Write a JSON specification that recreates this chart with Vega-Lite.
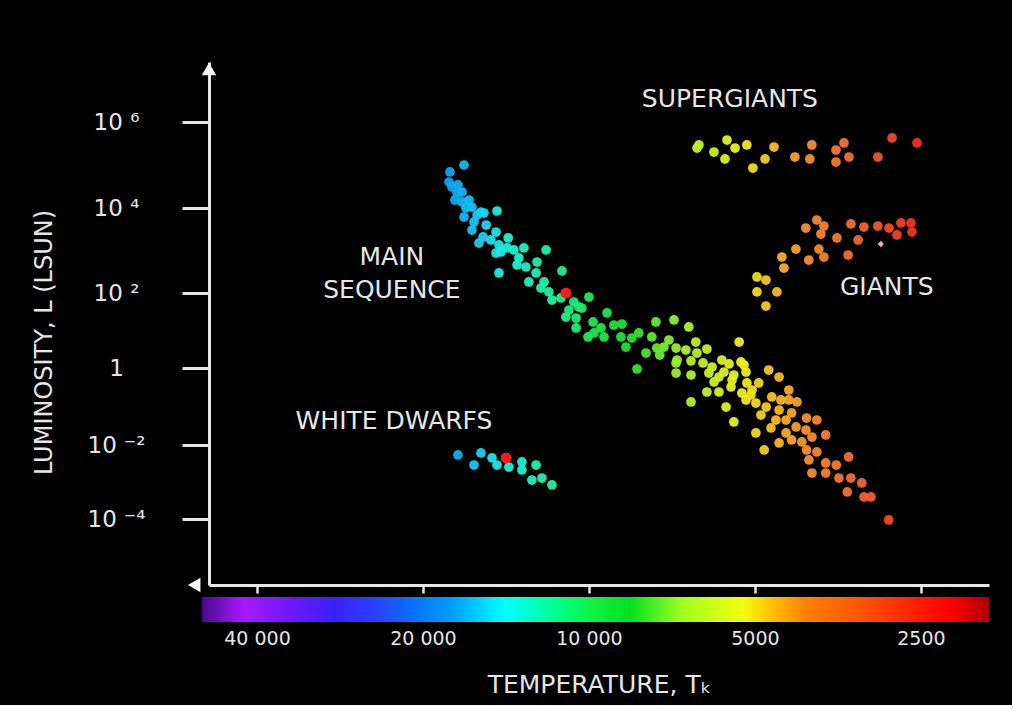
{
  "$schema": "https://vega.github.io/schema/vega-lite/v6.json",
  "background": "black",
  "padding": {"left": 32, "top": 62, "right": 23, "bottom": 8},
  "config": {
    "view": {"stroke": null},
    "font": "DejaVu Sans",
    "concat": {"spacing": 2},
    "axis": {"grid": false, "labelColor": "#e6e6e6", "titleColor": "#e6e6e6", "domainColor": "#e6e6e6", "tickColor": "#e6e6e6", "titleFontWeight": "normal"}
  },
  "datasets": {
    "stars": [
      {"group": "Main sequence", "temperature_K": 16850, "luminosity_Lsun": 100000},
      {"group": "Main sequence", "temperature_K": 17870, "luminosity_Lsun": 69000},
      {"group": "Main sequence", "temperature_K": 17940, "luminosity_Lsun": 40000},
      {"group": "Main sequence", "temperature_K": 17720, "luminosity_Lsun": 30800},
      {"group": "Main sequence", "temperature_K": 17280, "luminosity_Lsun": 34300},
      {"group": "Main sequence", "temperature_K": 17350, "luminosity_Lsun": 22300},
      {"group": "Main sequence", "temperature_K": 16990, "luminosity_Lsun": 23500},
      {"group": "Main sequence", "temperature_K": 17500, "luminosity_Lsun": 15300},
      {"group": "Main sequence", "temperature_K": 16990, "luminosity_Lsun": 13800},
      {"group": "Main sequence", "temperature_K": 16500, "luminosity_Lsun": 15300},
      {"group": "Main sequence", "temperature_K": 16300, "luminosity_Lsun": 10500},
      {"group": "Main sequence", "temperature_K": 16710, "luminosity_Lsun": 10000},
      {"group": "Main sequence", "temperature_K": 15700, "luminosity_Lsun": 8050},
      {"group": "Main sequence", "temperature_K": 15500, "luminosity_Lsun": 7620},
      {"group": "Main sequence", "temperature_K": 15950, "luminosity_Lsun": 6840},
      {"group": "Main sequence", "temperature_K": 16850, "luminosity_Lsun": 6140},
      {"group": "Main sequence", "temperature_K": 14680, "luminosity_Lsun": 8500},
      {"group": "Main sequence", "temperature_K": 15360, "luminosity_Lsun": 3980},
      {"group": "Main sequence", "temperature_K": 16160, "luminosity_Lsun": 4690},
      {"group": "Main sequence", "temperature_K": 16300, "luminosity_Lsun": 3030},
      {"group": "Main sequence", "temperature_K": 15560, "luminosity_Lsun": 2080},
      {"group": "Main sequence", "temperature_K": 15830, "luminosity_Lsun": 1500},
      {"group": "Main sequence", "temperature_K": 14740, "luminosity_Lsun": 2720},
      {"group": "Main sequence", "temperature_K": 15060, "luminosity_Lsun": 1770},
      {"group": "Main sequence", "temperature_K": 14560, "luminosity_Lsun": 1350},
      {"group": "Main sequence", "temperature_K": 14010, "luminosity_Lsun": 1970},
      {"group": "Main sequence", "temperature_K": 14070, "luminosity_Lsun": 1150},
      {"group": "Main sequence", "temperature_K": 14440, "luminosity_Lsun": 923},
      {"group": "Main sequence", "temperature_K": 13680, "luminosity_Lsun": 1030},
      {"group": "Main sequence", "temperature_K": 14740, "luminosity_Lsun": 873},
      {"group": "Main sequence", "temperature_K": 13400, "luminosity_Lsun": 667},
      {"group": "Main sequence", "temperature_K": 13120, "luminosity_Lsun": 1150},
      {"group": "Main sequence", "temperature_K": 13500, "luminosity_Lsun": 456},
      {"group": "Main sequence", "temperature_K": 13010, "luminosity_Lsun": 409},
      {"group": "Main sequence", "temperature_K": 14560, "luminosity_Lsun": 296},
      {"group": "Main sequence", "temperature_K": 12420, "luminosity_Lsun": 536},
      {"group": "Main sequence", "temperature_K": 11960, "luminosity_Lsun": 1030},
      {"group": "Main sequence", "temperature_K": 12470, "luminosity_Lsun": 296},
      {"group": "Main sequence", "temperature_K": 12850, "luminosity_Lsun": 182},
      {"group": "Main sequence", "temperature_K": 12060, "luminosity_Lsun": 182},
      {"group": "Main sequence", "temperature_K": 12220, "luminosity_Lsun": 131},
      {"group": "Main sequence", "temperature_K": 11820, "luminosity_Lsun": 106},
      {"group": "Main sequence", "temperature_K": 11190, "luminosity_Lsun": 330},
      {"group": "Main sequence", "temperature_K": 11670, "luminosity_Lsun": 65},
      {"group": "Main sequence", "temperature_K": 11240, "luminosity_Lsun": 73.6},
      {"group": "Main sequence", "temperature_K": 10650, "luminosity_Lsun": 57.5},
      {"group": "Main sequence", "temperature_K": 10000, "luminosity_Lsun": 78.2},
      {"group": "Main sequence", "temperature_K": 10300, "luminosity_Lsun": 39.8},
      {"group": "Main sequence", "temperature_K": 10870, "luminosity_Lsun": 35.2},
      {"group": "Main sequence", "temperature_K": 11010, "luminosity_Lsun": 22.9},
      {"group": "Main sequence", "temperature_K": 10550, "luminosity_Lsun": 21.5},
      {"group": "Main sequence", "temperature_K": 9830, "luminosity_Lsun": 16.9},
      {"group": "Main sequence", "temperature_K": 9270, "luminosity_Lsun": 29.3},
      {"group": "Main sequence", "temperature_K": 9790, "luminosity_Lsun": 8.58},
      {"group": "Main sequence", "temperature_K": 9510, "luminosity_Lsun": 11.7},
      {"group": "Main sequence", "temperature_K": 9390, "luminosity_Lsun": 6.71},
      {"group": "Main sequence", "temperature_K": 10040, "luminosity_Lsun": 6.71},
      {"group": "Main sequence", "temperature_K": 10550, "luminosity_Lsun": 11.7},
      {"group": "Main sequence", "temperature_K": 9010, "luminosity_Lsun": 14.0},
      {"group": "Main sequence", "temperature_K": 10430, "luminosity_Lsun": 42.4},
      {"group": "Main sequence", "temperature_K": 8710, "luminosity_Lsun": 14.9},
      {"group": "Main sequence", "temperature_K": 8750, "luminosity_Lsun": 6.71},
      {"group": "Main sequence", "temperature_K": 8360, "luminosity_Lsun": 6.31},
      {"group": "Main sequence", "temperature_K": 8120, "luminosity_Lsun": 8.58},
      {"group": "Main sequence", "temperature_K": 7560, "luminosity_Lsun": 16.9},
      {"group": "Main sequence", "temperature_K": 7010, "luminosity_Lsun": 19.1},
      {"group": "Main sequence", "temperature_K": 6590, "luminosity_Lsun": 12.4},
      {"group": "Main sequence", "temperature_K": 7690, "luminosity_Lsun": 6.71},
      {"group": "Main sequence", "temperature_K": 8180, "luminosity_Lsun": 0.942},
      {"group": "Main sequence", "temperature_K": 7880, "luminosity_Lsun": 2.51},
      {"group": "Main sequence", "temperature_K": 7440, "luminosity_Lsun": 2.22},
      {"group": "Main sequence", "temperature_K": 7310, "luminosity_Lsun": 3.63},
      {"group": "Main sequence", "temperature_K": 6950, "luminosity_Lsun": 3.41},
      {"group": "Main sequence", "temperature_K": 6920, "luminosity_Lsun": 1.63},
      {"group": "Main sequence", "temperature_K": 6670, "luminosity_Lsun": 3.02},
      {"group": "Main sequence", "temperature_K": 6530, "luminosity_Lsun": 1.54},
      {"group": "Main sequence", "temperature_K": 6530, "luminosity_Lsun": 0.658},
      {"group": "Main sequence", "temperature_K": 6400, "luminosity_Lsun": 4.93},
      {"group": "Main sequence", "temperature_K": 6210, "luminosity_Lsun": 1.36},
      {"group": "Main sequence", "temperature_K": 6110, "luminosity_Lsun": 3.21},
      {"group": "Main sequence", "temperature_K": 5980, "luminosity_Lsun": 1.06},
      {"group": "Main sequence", "temperature_K": 6060, "luminosity_Lsun": 0.741},
      {"group": "Main sequence", "temperature_K": 5340, "luminosity_Lsun": 4.93},
      {"group": "Main sequence", "temperature_K": 5570, "luminosity_Lsun": 1.28},
      {"group": "Main sequence", "temperature_K": 5810, "luminosity_Lsun": 0.583},
      {"group": "Main sequence", "temperature_K": 5740, "luminosity_Lsun": 1.63},
      {"group": "Main sequence", "temperature_K": 5300, "luminosity_Lsun": 1.45},
      {"group": "Main sequence", "temperature_K": 5500, "luminosity_Lsun": 0.488},
      {"group": "Main sequence", "temperature_K": 5190, "luminosity_Lsun": 0.787},
      {"group": "Main sequence", "temperature_K": 5170, "luminosity_Lsun": 0.408},
      {"group": "Main sequence", "temperature_K": 6110, "luminosity_Lsun": 0.238},
      {"group": "Main sequence", "temperature_K": 5810, "luminosity_Lsun": 0.238},
      {"group": "Main sequence", "temperature_K": 6530, "luminosity_Lsun": 0.131},
      {"group": "Main sequence", "temperature_K": 5640, "luminosity_Lsun": 0.097},
      {"group": "Main sequence", "temperature_K": 5525, "luminosity_Lsun": 0.321},
      {"group": "Main sequence", "temperature_K": 5280, "luminosity_Lsun": 0.224},
      {"group": "Main sequence", "temperature_K": 5060, "luminosity_Lsun": 0.268},
      {"group": "Main sequence", "temperature_K": 5190, "luminosity_Lsun": 0.148},
      {"group": "Main sequence", "temperature_K": 4980, "luminosity_Lsun": 0.123},
      {"group": "Main sequence", "temperature_K": 4920, "luminosity_Lsun": 0.408},
      {"group": "Main sequence", "temperature_K": 4720, "luminosity_Lsun": 0.887},
      {"group": "Main sequence", "temperature_K": 4520, "luminosity_Lsun": 0.583},
      {"group": "Main sequence", "temperature_K": 4660, "luminosity_Lsun": 0.177},
      {"group": "Main sequence", "temperature_K": 4770, "luminosity_Lsun": 0.097},
      {"group": "Main sequence", "temperature_K": 5460, "luminosity_Lsun": 0.0396},
      {"group": "Main sequence", "temperature_K": 4980, "luminosity_Lsun": 0.0205},
      {"group": "Main sequence", "temperature_K": 4810, "luminosity_Lsun": 0.00733},
      {"group": "Main sequence", "temperature_K": 4520, "luminosity_Lsun": 0.0811},
      {"group": "Main sequence", "temperature_K": 4340, "luminosity_Lsun": 0.268},
      {"group": "Main sequence", "temperature_K": 4340, "luminosity_Lsun": 0.148},
      {"group": "Main sequence", "temperature_K": 4580, "luminosity_Lsun": 0.0446},
      {"group": "Main sequence", "temperature_K": 4390, "luminosity_Lsun": 0.0446},
      {"group": "Main sequence", "temperature_K": 4290, "luminosity_Lsun": 0.0678},
      {"group": "Main sequence", "temperature_K": 4210, "luminosity_Lsun": 0.0294},
      {"group": "Main sequence", "temperature_K": 4030, "luminosity_Lsun": 0.0502},
      {"group": "Main sequence", "temperature_K": 3860, "luminosity_Lsun": 0.0446},
      {"group": "Main sequence", "temperature_K": 4040, "luminosity_Lsun": 0.0245},
      {"group": "Main sequence", "temperature_K": 4390, "luminosity_Lsun": 0.0205},
      {"group": "Main sequence", "temperature_K": 4290, "luminosity_Lsun": 0.0135},
      {"group": "Main sequence", "temperature_K": 4520, "luminosity_Lsun": 0.0113},
      {"group": "Main sequence", "temperature_K": 4110, "luminosity_Lsun": 0.012},
      {"group": "Main sequence", "temperature_K": 3940, "luminosity_Lsun": 0.0161},
      {"group": "Main sequence", "temperature_K": 3720, "luminosity_Lsun": 0.0182},
      {"group": "Main sequence", "temperature_K": 4030, "luminosity_Lsun": 0.00733},
      {"group": "Main sequence", "temperature_K": 3860, "luminosity_Lsun": 0.00647},
      {"group": "Main sequence", "temperature_K": 3990, "luminosity_Lsun": 0.00394},
      {"group": "Main sequence", "temperature_K": 3720, "luminosity_Lsun": 0.00327},
      {"group": "Main sequence", "temperature_K": 3560, "luminosity_Lsun": 0.00288},
      {"group": "Main sequence", "temperature_K": 3380, "luminosity_Lsun": 0.00474},
      {"group": "Main sequence", "temperature_K": 3940, "luminosity_Lsun": 0.00175},
      {"group": "Main sequence", "temperature_K": 3720, "luminosity_Lsun": 0.00175},
      {"group": "Main sequence", "temperature_K": 3520, "luminosity_Lsun": 0.00128},
      {"group": "Main sequence", "temperature_K": 3350, "luminosity_Lsun": 0.00128},
      {"group": "Main sequence", "temperature_K": 3400, "luminosity_Lsun": 0.000537},
      {"group": "Main sequence", "temperature_K": 3200, "luminosity_Lsun": 0.00094},
      {"group": "Main sequence", "temperature_K": 3080, "luminosity_Lsun": 0.000394},
      {"group": "Main sequence", "temperature_K": 3170, "luminosity_Lsun": 0.000394},
      {"group": "Main sequence", "temperature_K": 2860, "luminosity_Lsun": 0.000094},
      {"group": "Main sequence", "temperature_K": 8570, "luminosity_Lsun": 3.63},
      {"group": "Main sequence", "temperature_K": 7160, "luminosity_Lsun": 5.58},
      {"group": "Main sequence", "temperature_K": 7530, "luminosity_Lsun": 3.41},
      {"group": "Main sequence", "temperature_K": 6950, "luminosity_Lsun": 1.36},
      {"group": "Main sequence", "temperature_K": 6950, "luminosity_Lsun": 0.741},
      {"group": "Main sequence", "temperature_K": 6370, "luminosity_Lsun": 2.51},
      {"group": "Main sequence", "temperature_K": 5690, "luminosity_Lsun": 0.787},
      {"group": "Main sequence", "temperature_K": 5930, "luminosity_Lsun": 0.433},
      {"group": "Main sequence", "temperature_K": 5460, "luminosity_Lsun": 0.658},
      {"group": "Main sequence", "temperature_K": 5085, "luminosity_Lsun": 0.199},
      {"group": "Main sequence", "temperature_K": 4875, "luminosity_Lsun": 0.0601},
      {"group": "Main sequence", "temperature_K": 4676, "luminosity_Lsun": 0.0277},
      {"group": "Main sequence", "temperature_K": 4486, "luminosity_Lsun": 0.148},
      {"group": "Main sequence", "temperature_K": 4195, "luminosity_Lsun": 0.131},
      {"group": "Main sequence", "temperature_K": 5232, "luminosity_Lsun": 1.2},
      {"group": "Supergiants", "temperature_K": 6368, "luminosity_Lsun": 248000},
      {"group": "Supergiants", "temperature_K": 6316, "luminosity_Lsun": 292000},
      {"group": "Supergiants", "temperature_K": 5933, "luminosity_Lsun": 200000},
      {"group": "Supergiants", "temperature_K": 5618, "luminosity_Lsun": 381000},
      {"group": "Supergiants", "temperature_K": 5666, "luminosity_Lsun": 138000},
      {"group": "Supergiants", "temperature_K": 5432, "luminosity_Lsun": 248000},
      {"group": "Supergiants", "temperature_K": 5171, "luminosity_Lsun": 292000},
      {"group": "Supergiants", "temperature_K": 5042, "luminosity_Lsun": 85100},
      {"group": "Supergiants", "temperature_K": 4793, "luminosity_Lsun": 138000},
      {"group": "Supergiants", "temperature_K": 4617, "luminosity_Lsun": 262000},
      {"group": "Supergiants", "temperature_K": 4231, "luminosity_Lsun": 153000},
      {"group": "Supergiants", "temperature_K": 3942, "luminosity_Lsun": 292000},
      {"group": "Supergiants", "temperature_K": 3975, "luminosity_Lsun": 138000},
      {"group": "Supergiants", "temperature_K": 3564, "luminosity_Lsun": 223000},
      {"group": "Supergiants", "temperature_K": 3447, "luminosity_Lsun": 325000},
      {"group": "Supergiants", "temperature_K": 3564, "luminosity_Lsun": 117000},
      {"group": "Supergiants", "temperature_K": 3376, "luminosity_Lsun": 153000},
      {"group": "Supergiants", "temperature_K": 2992, "luminosity_Lsun": 153000},
      {"group": "Supergiants", "temperature_K": 2820, "luminosity_Lsun": 425000},
      {"group": "Supergiants", "temperature_K": 2541, "luminosity_Lsun": 325000},
      {"group": "Giants", "temperature_K": 3860, "luminosity_Lsun": 5220},
      {"group": "Giants", "temperature_K": 4042, "luminosity_Lsun": 3380},
      {"group": "Giants", "temperature_K": 3749, "luminosity_Lsun": 3770},
      {"group": "Giants", "temperature_K": 3348, "luminosity_Lsun": 4210},
      {"group": "Giants", "temperature_K": 3172, "luminosity_Lsun": 3570},
      {"group": "Giants", "temperature_K": 2992, "luminosity_Lsun": 3770},
      {"group": "Giants", "temperature_K": 2856, "luminosity_Lsun": 3380},
      {"group": "Giants", "temperature_K": 2717, "luminosity_Lsun": 4440},
      {"group": "Giants", "temperature_K": 2606, "luminosity_Lsun": 4440},
      {"group": "Giants", "temperature_K": 2595, "luminosity_Lsun": 2720},
      {"group": "Giants", "temperature_K": 2763, "luminosity_Lsun": 2320},
      {"group": "Giants", "temperature_K": 3796, "luminosity_Lsun": 2440},
      {"group": "Giants", "temperature_K": 3550, "luminosity_Lsun": 1970},
      {"group": "Giants", "temperature_K": 3249, "luminosity_Lsun": 1770},
      {"group": "Giants", "temperature_K": 3828, "luminosity_Lsun": 1080},
      {"group": "Giants", "temperature_K": 4213, "luminosity_Lsun": 1080},
      {"group": "Giants", "temperature_K": 4467, "luminosity_Lsun": 703},
      {"group": "Giants", "temperature_K": 3992, "luminosity_Lsun": 597},
      {"group": "Giants", "temperature_K": 3749, "luminosity_Lsun": 703},
      {"group": "Giants", "temperature_K": 3388, "luminosity_Lsun": 783},
      {"group": "Giants", "temperature_K": 4429, "luminosity_Lsun": 387},
      {"group": "Giants", "temperature_K": 4957, "luminosity_Lsun": 238},
      {"group": "Giants", "temperature_K": 4775, "luminosity_Lsun": 202},
      {"group": "Giants", "temperature_K": 4957, "luminosity_Lsun": 106},
      {"group": "Giants", "temperature_K": 4562, "luminosity_Lsun": 106},
      {"group": "Giants", "temperature_K": 4775, "luminosity_Lsun": 45},
      {"group": "White dwarfs", "temperature_K": 17280, "luminosity_Lsun": 0.00537},
      {"group": "White dwarfs", "temperature_K": 16160, "luminosity_Lsun": 0.00288},
      {"group": "White dwarfs", "temperature_K": 15700, "luminosity_Lsun": 0.00608},
      {"group": "White dwarfs", "temperature_K": 14990, "luminosity_Lsun": 0.00446},
      {"group": "White dwarfs", "temperature_K": 14680, "luminosity_Lsun": 0.00288},
      {"group": "White dwarfs", "temperature_K": 13970, "luminosity_Lsun": 0.00254},
      {"group": "White dwarfs", "temperature_K": 13230, "luminosity_Lsun": 0.00348},
      {"group": "White dwarfs", "temperature_K": 13230, "luminosity_Lsun": 0.00211},
      {"group": "White dwarfs", "temperature_K": 12470, "luminosity_Lsun": 0.00288},
      {"group": "White dwarfs", "temperature_K": 12690, "luminosity_Lsun": 0.00113},
      {"group": "White dwarfs", "temperature_K": 12170, "luminosity_Lsun": 0.00128},
      {"group": "White dwarfs", "temperature_K": 11670, "luminosity_Lsun": 0.00083}
    ],
    "highlighted": [
      {"group": "Main sequence", "temperature_K": 11010, "luminosity_Lsun": 100},
      {"group": "White dwarfs", "temperature_K": 14130, "luminosity_Lsun": 0.00446}
    ],
    "marked_giant": [
      {"group": "Giants", "temperature_K": 2955, "luminosity_Lsun": 1420}
    ],
    "region_labels": [
      {"label": "SUPERGIANTS", "temperature_K": 5550, "luminosity_Lsun": 3600000},
      {"label": "MAIN", "temperature_K": 22770, "luminosity_Lsun": 708},
      {"label": "SEQUENCE", "temperature_K": 22770, "luminosity_Lsun": 117},
      {"label": "GIANTS", "temperature_K": 2882, "luminosity_Lsun": 138},
      {"label": "WHITE DWARFS", "temperature_K": 22570, "luminosity_Lsun": 0.042}
    ]
  },
  "vconcat": [
    {
      "width": 780,
      "height": 523,
      "encoding": {
        "x": {
          "field": "temperature_K",
          "type": "quantitative",
          "scale": {"type": "log", "domain": [48876, 1881], "nice": false},
          "axis": {"values": [40000, 20000, 10000, 5000, 2500], "labels": false, "title": null, "tickSize": 8, "tickWidth": 2.5, "domainWidth": 3}
        },
        "y": {
          "field": "luminosity_Lsun",
          "type": "quantitative",
          "scale": {
            "type": "log",
            "nice": false,
            "domain": [0.000001644, 0.0001, 0.01, 1, 100, 10000, 1000000, 28400000],
            "range": [523, 457, 383, 306, 231, 146, 60, 0]
          },
          "axis": {
            "values": [0.0001, 0.01, 1, 100, 10000, 1000000],
            "labelExpr": "datum.value > 100000 ? '10 ⁶' : datum.value > 1000 ? '10 ⁴' : datum.value > 10 ? '10 ²' : datum.value > 0.1 ? '1' : datum.value > 0.001 ? '10 ⁻²' : '10 ⁻⁴'",
            "tickSize": 27,
            "tickWidth": 3,
            "domainWidth": 3,
            "labelPadding": 66,
            "labelAlign": "center",
            "labelBaseline": "middle",
            "labelFontSize": 23,
            "title": "LUMINOSITY, L (LSUN)",
            "titleFontSize": 24,
            "titleAngle": 270,
            "titleAlign": "center",
            "titleBaseline": "bottom",
            "titleX": -153,
            "titleY": 280
          }
        }
      },
      "layer": [
        {
          "data": {"name": "stars"},
          "mark": {"type": "point", "shape": "circle", "filled": true, "size": 95, "opacity": 0.95},
          "encoding": {
            "color": {
              "field": "temperature_K",
              "type": "quantitative",
              "legend": null,
              "scale": {
                "type": "log",
                "interpolate": "rgb",
                "domain": [50316, 42230, 34290, 29000, 24540, 21030, 17570, 15310, 14260, 12960, 11240, 9790, 8464, 6780, 5280, 4657, 4041, 3145, 2552, 2222, 1881],
                "range": ["#4a0a90", "#a818ff", "#6a18ff", "#3a20ff", "#2a40ff", "#0870ff", "#10a8f0", "#20d8f0", "#20f0e0", "#20f0c0", "#20f090", "#20e850", "#20e030", "#a8f030", "#f0f020", "#f8c020", "#f89030", "#f06030", "#f03020", "#f01818", "#c00000"]
              }
            }
          }
        },
        {
          "data": {"name": "highlighted"},
          "mark": {"type": "point", "shape": "circle", "filled": true, "size": 120, "color": "#ff1a1a", "opacity": 1}
        },
        {
          "data": {"name": "marked_giant"},
          "mark": {"type": "point", "shape": "diamond", "filled": true, "size": 40, "color": "#f0b0b0", "opacity": 1}
        },
        {
          "data": {"values": [{"temperature_K": 48876, "luminosity_Lsun": 19200000}]},
          "mark": {"type": "point", "shape": "triangle-up", "filled": true, "size": 210, "color": "#f5f5f5", "opacity": 1}
        },
        {
          "data": {"values": [{"temperature_K": 52000, "luminosity_Lsun": 0.000001644}]},
          "mark": {"type": "point", "shape": "triangle-left", "filled": true, "size": 210, "color": "#f5f5f5", "opacity": 1}
        },
        {
          "data": {"name": "region_labels"},
          "mark": {"type": "text", "color": "#e6e6e6", "fontSize": 25, "align": "center", "baseline": "middle"},
          "encoding": {"text": {"field": "label", "type": "nominal"}}
        }
      ]
    },
    {
      "width": 780,
      "height": 25,
      "data": {"values": [{"hot_end_K": 50316, "cool_end_K": 1881}]},
      "mark": {
        "type": "rect",
        "color": {
          "gradient": "linear",
          "x1": 0, "y1": 0, "x2": 1, "y2": 0,
          "stops": [
            {"offset": 0, "color": "#4a0a90"},
            {"offset": 0.053, "color": "#a818ff"},
            {"offset": 0.117, "color": "#6a18ff"},
            {"offset": 0.168, "color": "#3a20ff"},
            {"offset": 0.219, "color": "#2a40ff"},
            {"offset": 0.266, "color": "#0870ff"},
            {"offset": 0.32, "color": "#00a0ff"},
            {"offset": 0.362, "color": "#00e0ff"},
            {"offset": 0.384, "color": "#00ffff"},
            {"offset": 0.413, "color": "#00ffd0"},
            {"offset": 0.456, "color": "#00ff80"},
            {"offset": 0.498, "color": "#10f040"},
            {"offset": 0.543, "color": "#00e020"},
            {"offset": 0.61, "color": "#a0ff20"},
            {"offset": 0.686, "color": "#f0ff10"},
            {"offset": 0.724, "color": "#ffc000"},
            {"offset": 0.767, "color": "#ff8000"},
            {"offset": 0.844, "color": "#ff5000"},
            {"offset": 0.907, "color": "#ff2000"},
            {"offset": 0.949, "color": "#ff0000"},
            {"offset": 1, "color": "#b00000"}
          ]
        }
      },
      "encoding": {
        "x": {
          "field": "hot_end_K",
          "type": "quantitative",
          "scale": {"type": "log", "domain": [48876, 1881], "nice": false},
          "axis": {
            "values": [40000, 20000, 10000, 5000, 2500],
            "labelExpr": "datum.value == 40000 ? '40 000' : datum.value == 20000 ? '20 000' : datum.value == 10000 ? '10 000' : datum.value == 5000 ? '5000' : '2500'",
            "domain": false,
            "ticks": false,
            "labelFontSize": 19,
            "labelPadding": 7,
            "title": "TEMPERATURE, Tₖ",
            "titleFontSize": 25,
            "titlePadding": 24
          }
        },
        "x2": {"field": "cool_end_K"}
      }
    }
  ],
  "resolve": {"scale": {"x": "independent"}}
}
